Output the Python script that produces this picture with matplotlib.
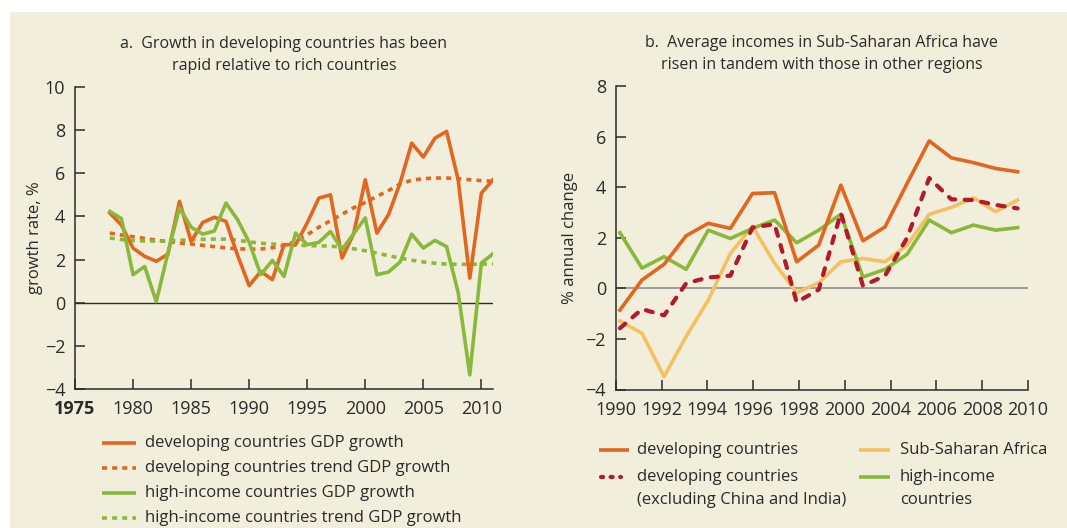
import numpy as np
import matplotlib
matplotlib.use("Agg")
from matplotlib import pyplot as plt
from matplotlib.lines import Line2D
from matplotlib.patches import Rectangle

plt.rcParams['font.family'] = ['Open Sans', 'DejaVu Sans']

# panel a: GDP growth, %
years_a = np.arange(1978, 2012)
dev_gdp = [4.16, 3.6, 2.53, 2.15, 1.92, 2.25, 4.7, 2.84, 3.72, 3.96, 3.77, 2.2, 0.79, 1.45, 1.07, 2.69, 2.69,
           3.7, 4.85, 5.0, 2.07, 3.2, 5.7, 3.23, 4.08, 5.55, 7.4, 6.75, 7.63, 7.94, 5.7, 1.14, 5.08, 5.7]
dev_trend = [3.23, 3.14, 3.06, 2.98, 2.9, 2.83, 2.77, 2.72, 2.66, 2.6, 2.54, 2.5, 2.48, 2.49, 2.55, 2.64, 2.85,
             3.15, 3.5, 3.8, 4.1, 4.4, 4.65, 4.93, 5.2, 5.5, 5.68, 5.75, 5.78, 5.78, 5.75, 5.7, 5.66, 5.63]
hi_gdp = [4.23, 3.9, 1.3, 1.68, 0.05, 2.3, 4.4, 3.5, 3.18, 3.32, 4.62, 3.85, 2.8, 1.3, 1.96, 1.22, 3.23,
          2.69, 2.8, 3.3, 2.46, 3.2, 3.93, 1.3, 1.42, 1.89, 3.18, 2.53, 2.89, 2.6, 0.48, -3.34, 1.84, 2.27]
hi_trend = [3.0, 2.93, 2.88, 2.86, 2.86, 2.87, 2.89, 2.92, 2.94, 2.95, 2.95, 2.9, 2.82, 2.76, 2.72, 2.69, 2.67,
            2.65, 2.64, 2.62, 2.58, 2.5, 2.41, 2.3, 2.18, 2.07, 1.97, 1.89, 1.83, 1.79, 1.78, 1.78, 1.79, 1.8]

# panel b: % annual change in average incomes
years_b = np.arange(1990, 2009)
dev_inc = [-0.86, 0.33, 0.95, 2.08, 2.57, 2.37, 3.75, 3.78, 1.05, 1.71, 4.08, 1.88, 2.43, 4.15, 5.83, 5.16,
           4.97, 4.74, 4.61]
excl_inc = [-1.58, -0.82, -1.07, 0.2, 0.43, 0.5, 2.4, 2.54, -0.55, -0.05, 2.98, 0.1, 0.5, 2.0, 4.36, 3.52,
            3.49, 3.3, 3.16]
ssa_inc = [-1.29, -1.78, -3.49, -1.9, -0.46, 1.38, 2.46, 0.99, -0.17, 0.22, 1.05, 1.18, 1.05, 1.71, 2.93, 3.2,
           3.58, 3.03, 3.49]
hi_inc = [2.2, 0.8, 1.25, 0.75, 2.3, 1.97, 2.37, 2.7, 1.8, 2.3, 2.93, 0.45, 0.75, 1.35, 2.7, 2.2, 2.5, 2.3, 2.4]
xtick_labels_b = ['1990', '1992', '1994', '1996', '1998', '2000', '2004', '2006', '2008', '2010']

ORANGE = '#e2661f'
GREEN = '#89b83b'
YELLOW = '#f4c062'
RED = '#b3182b'
BG = '#f2eedc'
INK = '#2a2a2a'

W, H = 1067, 528
fig = plt.figure(figsize=(W / 100, H / 100), dpi=100, facecolor='white')
fig.add_artist(Rectangle((10 / W, 0), 1, (H - 12) / H, transform=fig.transFigure,
                         facecolor=BG, edgecolor='none', zorder=-10))


def fx(px):
    return px / W


def fy(py):
    return 1 - py / H


def style_axes(ax):
    ax.set_facecolor('none')
    for s in ['top', 'right']:
        ax.spines[s].set_visible(False)
    for s in ['left', 'bottom']:
        ax.spines[s].set_color(INK)
        ax.spines[s].set_linewidth(1.1)
    ax.tick_params(direction='in', length=7, width=1.1, color=INK, labelcolor=INK, labelsize=13)
    ax.tick_params(axis='y', pad=7)
    ax.tick_params(axis='x', pad=8)


# ---- panel a
ax1 = fig.add_axes([fx(75), fy(389), fx(493 - 75), fy(87) - fy(389)])
style_axes(ax1)
ax1.axhline(0, color=INK, lw=1.0, zorder=1)
ax1.plot(years_a, dev_trend, color=ORANGE, lw=2.6, ls=(0, (1.4, 1.4)), zorder=2)
ax1.plot(years_a, hi_trend, color=GREEN, lw=2.6, ls=(0, (1.4, 1.4)), zorder=2)
ax1.plot(years_a, dev_gdp, color=ORANGE, lw=2.6, zorder=3)
ax1.plot(years_a, hi_gdp, color=GREEN, lw=2.6, zorder=4)
ax1.set_xlim(1975, 2011)
ax1.set_ylim(-4, 10)
ax1.set_xticks(np.arange(1975, 2011, 5))
ax1.set_yticks(np.arange(-4, 11, 2))
ax1.get_xticklabels()[0].set_fontweight('bold')
ax1.set_ylabel('growth rate, %', fontsize=12, color=INK, labelpad=1)
ax1.set_title('a.  Growth in developing countries has been\nrapid relative to rich countries',
              fontsize=11.5, color=INK, pad=12, linespacing=1.55)

# ---- panel b
ax2 = fig.add_axes([fx(615.7), fy(389.5), fx(1028 - 615.7), fy(86) - fy(389.5)])
style_axes(ax2)
x0b, x1b = 1989.81, 2008.47
ax2.axhline(0, color='#8d9098', lw=1.2, zorder=1)
ax2.plot(years_b, ssa_inc, color=YELLOW, lw=2.6, zorder=2)
ax2.plot(years_b, hi_inc, color=GREEN, lw=2.6, zorder=3)
ax2.plot(years_b, excl_inc, color=RED, lw=3.0, ls=(0, (1.7, 2.3)), dash_capstyle='round', zorder=4)
ax2.plot(years_b, dev_inc, color=ORANGE, lw=2.6, zorder=5)
ax2.set_xlim(x0b, x1b)
ax2.set_ylim(-4, 8)
ax2.set_xticks(np.linspace(x0b, x1b, len(xtick_labels_b)))
ax2.set_xticklabels(xtick_labels_b)
ax2.set_yticks(np.arange(-4, 9, 2))
ax2.set_ylabel('% annual change', fontsize=12, color=INK, labelpad=5)
ax2.set_title('b.  Average incomes in Sub-Saharan Africa have\nrisen in tandem with those in other regions',
              fontsize=11.5, color=INK, pad=12, linespacing=1.55)


# ---- legends
def key(x0, x1, y, color, lw=2.6, ls='-', cap='butt'):
    fig.add_artist(Line2D([fx(x0), fx(x1)], [fy(y), fy(y)], transform=fig.transFigure, color=color,
                          lw=lw, ls=ls, dash_capstyle=cap, solid_capstyle='butt'))


def label(x, y, s):
    fig.text(fx(x), fy(y), s, fontsize=12, color=INK, ha='left', va='center')


rows_a = [443, 468, 493, 518]
key(102, 136, rows_a[0], ORANGE)
label(145, rows_a[0], 'developing countries GDP growth')
key(102, 136, rows_a[1], ORANGE, ls=(0, (1.4, 1.4)))
label(145, rows_a[1], 'developing countries trend GDP growth')
key(102, 136, rows_a[2], GREEN)
label(145, rows_a[2], 'high-income countries GDP growth')
key(102, 136, rows_a[3], GREEN, ls=(0, (1.4, 1.4)))
label(145, rows_a[3], 'high-income countries trend GDP growth')

key(599, 629, 450, ORANGE)
label(637, 450, 'developing countries')
key(601, 621, 477, RED, lw=3.0, ls=(0, (0.5, 1.8)), cap='round')
label(637, 477, 'developing countries')
label(637, 500, '(excluding China and India)')
key(859, 890, 450, YELLOW)
label(900, 450, 'Sub-Saharan Africa')
key(859, 890, 477, GREEN)
label(900, 477, 'high-income')
label(900, 500, 'countries')

fig.savefig('out.png', dpi=100, facecolor='white')
